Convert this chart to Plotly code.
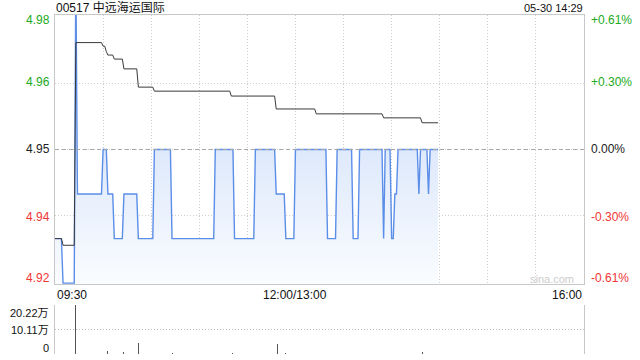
import plotly.graph_objects as go

# ---------------- data ----------------
title_text = "00517 中远海运国际"
time_text = "05-30 14:29"
prev_close = 4.95
pct_max = 0.0061

# price per minute from 09:30 (index 0) to 14:29 (index 239)
price = [
    4.93, 4.93, 4.93, 4.93, 4.93, 4.92, 4.92, 4.92, 4.92, 4.92,
    4.92, 4.92, 4.92, 4.99, 4.94, 4.94, 4.94, 4.94, 4.94, 4.94,
    4.94, 4.94, 4.94, 4.94, 4.94, 4.94, 4.94, 4.94, 4.94, 4.94,
    4.95, 4.95, 4.95, 4.94, 4.94, 4.94, 4.94, 4.93, 4.93, 4.93,
    4.93, 4.93, 4.93, 4.94, 4.94, 4.94, 4.94, 4.94, 4.94, 4.94,
    4.94, 4.94, 4.93, 4.93, 4.93, 4.93, 4.93, 4.93, 4.93, 4.93,
    4.93, 4.93, 4.95, 4.95, 4.95, 4.95, 4.95, 4.95, 4.95, 4.95,
    4.95, 4.95, 4.95, 4.93, 4.93, 4.93, 4.93, 4.93, 4.93, 4.93,
    4.93, 4.93, 4.93, 4.93, 4.93, 4.93, 4.93, 4.93, 4.93, 4.93,
    4.93, 4.93, 4.93, 4.93, 4.93, 4.93, 4.93, 4.93, 4.93, 4.93,
    4.95, 4.95, 4.95, 4.95, 4.95, 4.95, 4.95, 4.95, 4.95, 4.95,
    4.95, 4.95, 4.93, 4.93, 4.93, 4.93, 4.93, 4.93, 4.93, 4.93,
    4.93, 4.93, 4.93, 4.93, 4.93, 4.95, 4.95, 4.95, 4.95, 4.95,
    4.95, 4.95, 4.95, 4.95, 4.95, 4.95, 4.95, 4.95, 4.94, 4.94,
    4.94, 4.94, 4.94, 4.94, 4.93, 4.93, 4.93, 4.93, 4.93, 4.93,
    4.95, 4.95, 4.95, 4.95, 4.95, 4.95, 4.95, 4.95, 4.95, 4.95,
    4.95, 4.95, 4.95, 4.95, 4.95, 4.95, 4.95, 4.95, 4.95, 4.95,
    4.93, 4.93, 4.93, 4.93, 4.93, 4.93, 4.95, 4.95, 4.95, 4.95,
    4.95, 4.95, 4.95, 4.95, 4.95, 4.95, 4.93, 4.93, 4.93, 4.93,
    4.95, 4.95, 4.95, 4.95, 4.95, 4.95, 4.95, 4.95, 4.95, 4.95,
    4.95, 4.95, 4.95, 4.95, 4.95, 4.93, 4.95, 4.95, 4.95, 4.95,
    4.93, 4.93, 4.94, 4.94, 4.95, 4.95, 4.95, 4.95, 4.95, 4.95,
    4.95, 4.95, 4.95, 4.95, 4.95, 4.95, 4.95, 4.94, 4.95, 4.95,
    4.95, 4.95, 4.95, 4.94, 4.95, 4.95, 4.95, 4.95, 4.95, 4.95,
]

# average price per minute
avg_price = [
    4.930, 4.930, 4.930, 4.930, 4.930, 4.9285, 4.9285, 4.9285, 4.9285, 4.9285,
    4.9285, 4.9285, 4.9285, 4.974, 4.974, 4.974, 4.974, 4.974, 4.974, 4.974,
    4.974, 4.974, 4.974, 4.974, 4.974, 4.974, 4.974, 4.974, 4.974, 4.974,
    4.9732, 4.9732, 4.972, 4.9712, 4.9712, 4.9712, 4.9712, 4.9703, 4.9703, 4.9703,
    4.9703, 4.9703, 4.9703, 4.9681, 4.9681, 4.9681, 4.9681, 4.9681, 4.9681, 4.9681,
    4.9681, 4.9681, 4.964, 4.964, 4.964, 4.964, 4.964, 4.964, 4.964, 4.964,
    4.964, 4.964, 4.9631, 4.9631, 4.9631, 4.9631, 4.9631, 4.9631, 4.9631, 4.9631,
    4.9631, 4.9631, 4.9631, 4.9631, 4.9631, 4.9631, 4.9631, 4.9631, 4.9631, 4.9631,
    4.9631, 4.9631, 4.9631, 4.9631, 4.9631, 4.9631, 4.9631, 4.9631, 4.9631, 4.9631,
    4.9631, 4.9631, 4.9631, 4.9631, 4.9631, 4.9631, 4.9631, 4.9631, 4.9631, 4.9631,
    4.9631, 4.9631, 4.9631, 4.9631, 4.9631, 4.9631, 4.9631, 4.9631, 4.9631, 4.9631,
    4.962, 4.962, 4.962, 4.962, 4.962, 4.962, 4.962, 4.962, 4.962, 4.962,
    4.962, 4.962, 4.962, 4.962, 4.962, 4.962, 4.962, 4.962, 4.962, 4.962,
    4.962, 4.962, 4.962, 4.962, 4.962, 4.962, 4.962, 4.962, 4.9591, 4.9591,
    4.9591, 4.9591, 4.9591, 4.9591, 4.9591, 4.9591, 4.9591, 4.9591, 4.9591, 4.9591,
    4.9591, 4.9591, 4.9591, 4.9591, 4.9591, 4.9591, 4.9591, 4.9591, 4.9591, 4.9591,
    4.9591, 4.9591, 4.9591, 4.958, 4.958, 4.958, 4.958, 4.958, 4.958, 4.958,
    4.958, 4.958, 4.958, 4.958, 4.958, 4.958, 4.958, 4.958, 4.958, 4.958,
    4.958, 4.958, 4.958, 4.958, 4.958, 4.958, 4.958, 4.958, 4.958, 4.958,
    4.958, 4.958, 4.958, 4.958, 4.958, 4.958, 4.958, 4.958, 4.958, 4.958,
    4.958, 4.958, 4.958, 4.958, 4.958, 4.9571, 4.9571, 4.9571, 4.9571, 4.9571,
    4.9571, 4.9571, 4.9571, 4.9571, 4.9571, 4.9571, 4.9571, 4.9571, 4.9571, 4.9571,
    4.9571, 4.9571, 4.9571, 4.9571, 4.9571, 4.9571, 4.9571, 4.9571, 4.9571, 4.956,
    4.956, 4.956, 4.956, 4.956, 4.956, 4.956, 4.956, 4.956, 4.956, 4.956,
]

minutes = list(range(len(price)))

# volume (shares) at the minutes that traded visibly
vol_minutes = [2, 13, 20, 33, 38, 43, 52, 62, 73, 88, 100, 111, 125, 139, 144,
               150, 170, 176, 190, 200, 205, 214, 229, 234]
vol_values = [1200, 202200, 1500, 12000, 1200, 8000, 45000, 1500, 2500, 1200,
              1500, 2500, 1200, 41000, 2500, 1500, 1200, 1500, 1200, 1200,
              1500, 1200, 8000, 1200]
vol_max = 202200

x_tick_minutes = [0, 30, 60, 90, 120, 150, 180, 210, 240, 270, 300, 330]
x_labels = ["09:30", "12:00/13:00", "16:00"]
x_label_minutes = [0, 150, 330]

left_labels = ["4.98", "4.96", "4.95", "4.94", "4.92"]
right_labels = ["+0.61%", "+0.30%", "0.00%", "-0.30%", "-0.61%"]
level_pcts = [0.0061, 0.0030, 0.0, -0.0030, -0.0061]
vol_labels = ["20.22万", "10.11万", "0"]

# ---------------- styling ----------------
GREEN = "#22aa22"
RED = "#f03535"
BLACK = "#222222"
GRID = "#cfcfcf"
BORDER = "#c8c8c8"
FONT = "Liberation Sans, Arial, Noto Sans CJK SC, sans-serif"

W, H = 640, 360
PLOT_L, PLOT_R, PLOT_T, PLOT_B = 55, 584, 15, 354   # screen pixels
L, R, T, B = PLOT_L, W - PLOT_R, PLOT_T, H - PLOT_B
plot_h = PLOT_B - PLOT_T
plot_w = PLOT_R - PLOT_L
main_bottom_px = 284
vol_top_px = 305


def paper_y(py):
    return (PLOT_B - py) / plot_h


def paper_x(px):
    return (px - PLOT_L) / plot_w


y_lo = prev_close * (1 - pct_max)
y_hi = prev_close * (1 + pct_max)
level_vals = [prev_close * (1 + p) for p in level_pcts]
level_colors = [GREEN, GREEN, BLACK, RED, RED]

fig = go.Figure()

fig.add_trace(go.Scatter(
    x=minutes, y=price, mode="lines",
    line=dict(color="#5b8ee8", width=1.4),
    fill="tozeroy",
    fillgradient=dict(type="vertical", start=y_lo, stop=prev_close,
                      colorscale=[[0, "rgba(250,252,255,1)"], [1, "rgba(222,233,251,1)"]]),
    xaxis="x", yaxis="y", hoverinfo="skip",
))
fig.add_trace(go.Scatter(
    x=minutes, y=avg_price, mode="lines",
    line=dict(color="#3a3a3a", width=1),
    xaxis="x", yaxis="y", hoverinfo="skip",
))
fig.add_trace(go.Bar(
    x=vol_minutes, y=vol_values, width=0.65,
    marker=dict(color="#555555", line=dict(width=0)),
    xaxis="x2", yaxis="y2", hoverinfo="skip",
))

fig.add_shape(type="line", xref="x", yref="y", x0=0, x1=330, y0=prev_close, y1=prev_close,
              line=dict(color="#a8a8a8", width=1, dash="4px,3px"))

ann = []
ann.append(dict(text=title_text, xref="paper", yref="paper", x=paper_x(54), y=paper_y(7.5),
                xanchor="left", yanchor="middle", showarrow=False,
                font=dict(size=12, color="#111", family=FONT)))
ann.append(dict(text=time_text, xref="paper", yref="paper", x=paper_x(585), y=paper_y(7.5),
                xanchor="right", yanchor="middle", showarrow=False,
                font=dict(size=11, color="#111", family=FONT)))

label_py = [20.5, 82, 149, 216.5, 278]
for txt, col, py in zip(left_labels, level_colors, label_py):
    ann.append(dict(text=txt, xref="paper", yref="paper", x=paper_x(52), y=paper_y(py),
                    xanchor="right", yanchor="middle", showarrow=False,
                    font=dict(size=12, color=col, family=FONT)))
for txt, col, py in zip(right_labels, level_colors, label_py):
    ann.append(dict(text=txt, xref="paper", yref="paper", x=paper_x(589), y=paper_y(py),
                    xanchor="left", yanchor="middle", showarrow=False,
                    font=dict(size=12, color=col, family=FONT)))

x_anchors = ["left", "center", "right"]
for txt, m, xa in zip(x_labels, x_label_minutes, x_anchors):
    ann.append(dict(text=txt, xref="x", yref="paper", x=m, y=paper_y(294.5),
                    xanchor=xa, yanchor="middle", showarrow=False,
                    font=dict(size=12, color="#111", family=FONT)))

vol_label_py = [312.5, 330, 348]
for txt, py in zip(vol_labels, vol_label_py):
    ann.append(dict(text=txt, xref="paper", yref="paper", x=paper_x(51), y=paper_y(py),
                    xanchor="right", yanchor="middle", showarrow=False,
                    font=dict(size=11, color="#111", family=FONT)))

ann.append(dict(text="sina.com", xref="paper", yref="paper", x=paper_x(552), y=paper_y(279),
                xanchor="center", yanchor="middle", showarrow=False,
                font=dict(size=11, color="#cccccc", family=FONT)))

fig.update_layout(
    width=W, height=H,
    margin=dict(l=L, r=R, t=T, b=B, pad=0),
    paper_bgcolor="white", plot_bgcolor="white",
    showlegend=False,
    bargap=0,
    hovermode=False,
    annotations=ann,
    xaxis=dict(domain=[0, 1], range=[0, 330], anchor="y",
               tickvals=x_tick_minutes, showticklabels=False, ticks="",
               showgrid=True, gridcolor=GRID, griddash="1px,2px", gridwidth=1,
               zeroline=False, showline=True, linecolor=BORDER, linewidth=1, mirror=True),
    yaxis=dict(domain=[paper_y(main_bottom_px), 1], range=[y_lo, y_hi], anchor="x",
               tickvals=level_vals, showticklabels=False, ticks="",
               showgrid=True, gridcolor=GRID, griddash="1px,2px", gridwidth=1,
               zeroline=False, showline=True, linecolor=BORDER, linewidth=1, mirror=True),
    xaxis2=dict(domain=[0, 1], range=[0, 330], anchor="y2",
                showticklabels=False, ticks="", showgrid=False, zeroline=False,
                showline=False),
    yaxis2=dict(domain=[0, paper_y(vol_top_px)], range=[0, vol_max], anchor="x2",
                tickvals=[0, vol_max / 2, vol_max], showticklabels=False, ticks="",
                showgrid=True, gridcolor="#bdbdbd", griddash="1px,2px", gridwidth=1,
                zeroline=False, showline=True, linecolor=BORDER, linewidth=1, mirror=True),
)

# the page's default body margin would push the 640x360 figure off the window
fig.write_html("out.html", config={"displayModeBar": False, "staticPlot": True},
               post_script="document.body.style.margin='0';")
